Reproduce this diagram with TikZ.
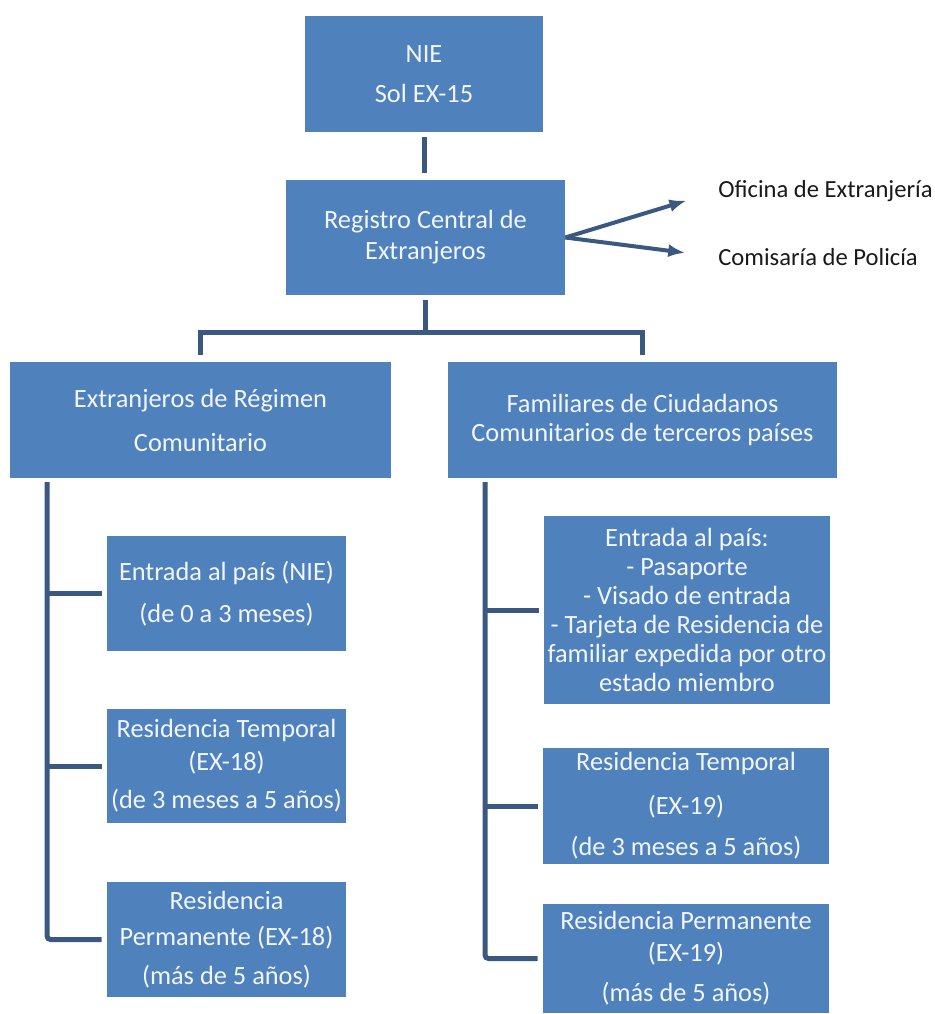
\documentclass[tikz,border=0pt]{standalone}
\usepackage{fontspec}
\setmainfont{Carlito}
\usetikzlibrary{arrows.meta}
\definecolor{boxblue}{RGB}{79,129,189}
\definecolor{linkblue}{RGB}{58,88,128}
\definecolor{boxtext}{RGB}{242,246,252}
\definecolor{labeltext}{RGB}{25,25,25}

\begin{document}
\begin{tikzpicture}[font=\fontsize{15}{16.5}\selectfont]
        \useasboundingbox (0, 0) rectangle (18.7, -20.28);
        \begin{scope}[every node/.style={fill=boxblue, text=boxtext, align=center, inner sep=0pt}]
            \node[minimum width=4.76cm, minimum height=2.32cm] (nie) at (8.48, -1.48) {NIE\\[6.3pt]Sol EX-15};
            \node[minimum width=5.58cm, minimum height=2.30cm] (reg) at (8.51, -4.75) {Registro Central de\\[1.1pt]Extranjeros};
            \node[minimum width=7.62cm, minimum height=2.32cm] (ext) at (4.01, -8.40) {Extranjeros de Régimen\\[8.5pt]Comunitario};
            \node[minimum width=7.78cm, minimum height=2.32cm] (fam) at (12.85, -8.40) {Familiares de Ciudadanos\\Comunitarios de terceros países};
            \node[minimum width=4.78cm, minimum height=2.30cm] (lc1) at (4.53, -11.87) {Entrada al país (NIE)\\[7.4pt](de 0 a 3 meses)};
            \node[minimum width=4.78cm, minimum height=2.28cm] (lc2) at (4.53, -15.32) {Residencia Temporal\\[2.3pt](EX-18)\\[5.1pt](de 3 meses a 5 años)};
            \node[minimum width=4.78cm, minimum height=2.30cm] (lc3) at (4.53, -18.79) {Residencia\\[4pt]Permanente (EX-18)\\[5.7pt](más de 5 años)};
            \node[minimum width=5.72cm, minimum height=3.76cm] (rc1) at (13.74, -12.20) {Entrada al país:\\- Pasaporte\\- Visado de entrada\\- Tarjeta de Residencia de\\familiar expedida por otro\\estado miembro};
            \node[minimum width=5.72cm, minimum height=2.32cm] (rc2) at (13.72, -16.12) {Residencia Temporal\\[8.5pt](EX-19)\\[6.8pt](de 3 meses a 5 años)};
            \node[minimum width=5.72cm, minimum height=2.18cm] (rc3) at (13.72, -19.17) {Residencia Permanente\\[1.7pt](EX-19)\\[6.3pt](más de 5 años)};
        \end{scope}
        \begin{scope}[every node/.style={text=labeltext, anchor=west, inner sep=0pt, font=\fontsize{14}{16}\selectfont}]
            \node (ofi) at (14.36, -3.82) {Oficina de Extranjería};
            \node (com) at (14.36, -5.14) {Comisaría de Policía};
        \end{scope}
        \coordinate (bar) at (8.46, -6.64);
        \coordinate (ltrunk) at (0.94, -9.64);
        \coordinate (rtrunk) at (9.70, -9.64);
        \begin{scope}[draw=linkblue, line width=0.1cm]
            \path [-, shorten <=0.1cm, shorten >=0.14cm] (nie) edge (nie |- reg.north);
            \path [-, shorten <=0.1cm] (reg.south) edge (reg.south |- bar);
            \draw [shorten <=0.14cm, shorten >=0.14cm] (ext.north) |- (bar) -| (fam.north);
            \draw [rounded corners=2pt, shorten >=0.1cm] (ltrunk) |- (lc3.west);
            \path [-, shorten >=0.1cm] (ltrunk |- lc1) edge (lc1.west);
            \path [-, shorten >=0.1cm] (ltrunk |- lc2) edge (lc2.west);
            \draw [rounded corners=2pt, shorten >=0.1cm] (rtrunk) |- (rc3.west);
            \path [-, shorten >=0.1cm] (rtrunk |- rc1) edge (rc1.west);
            \path [-, shorten >=0.1cm] (rtrunk |- rc2) edge (rc2.west);
        \end{scope}
        \begin{scope}[draw=linkblue, line width=0.08cm]
            \path [-{Latex[length=0.34cm, width=0.26cm]}, shorten >=0.66cm] (reg.east) edge (ofi.west);
            \path [-{Latex[length=0.34cm, width=0.26cm]}, shorten >=0.66cm] (reg.east) edge (com.west);
        \end{scope}
    \end{tikzpicture}
\end{document}
